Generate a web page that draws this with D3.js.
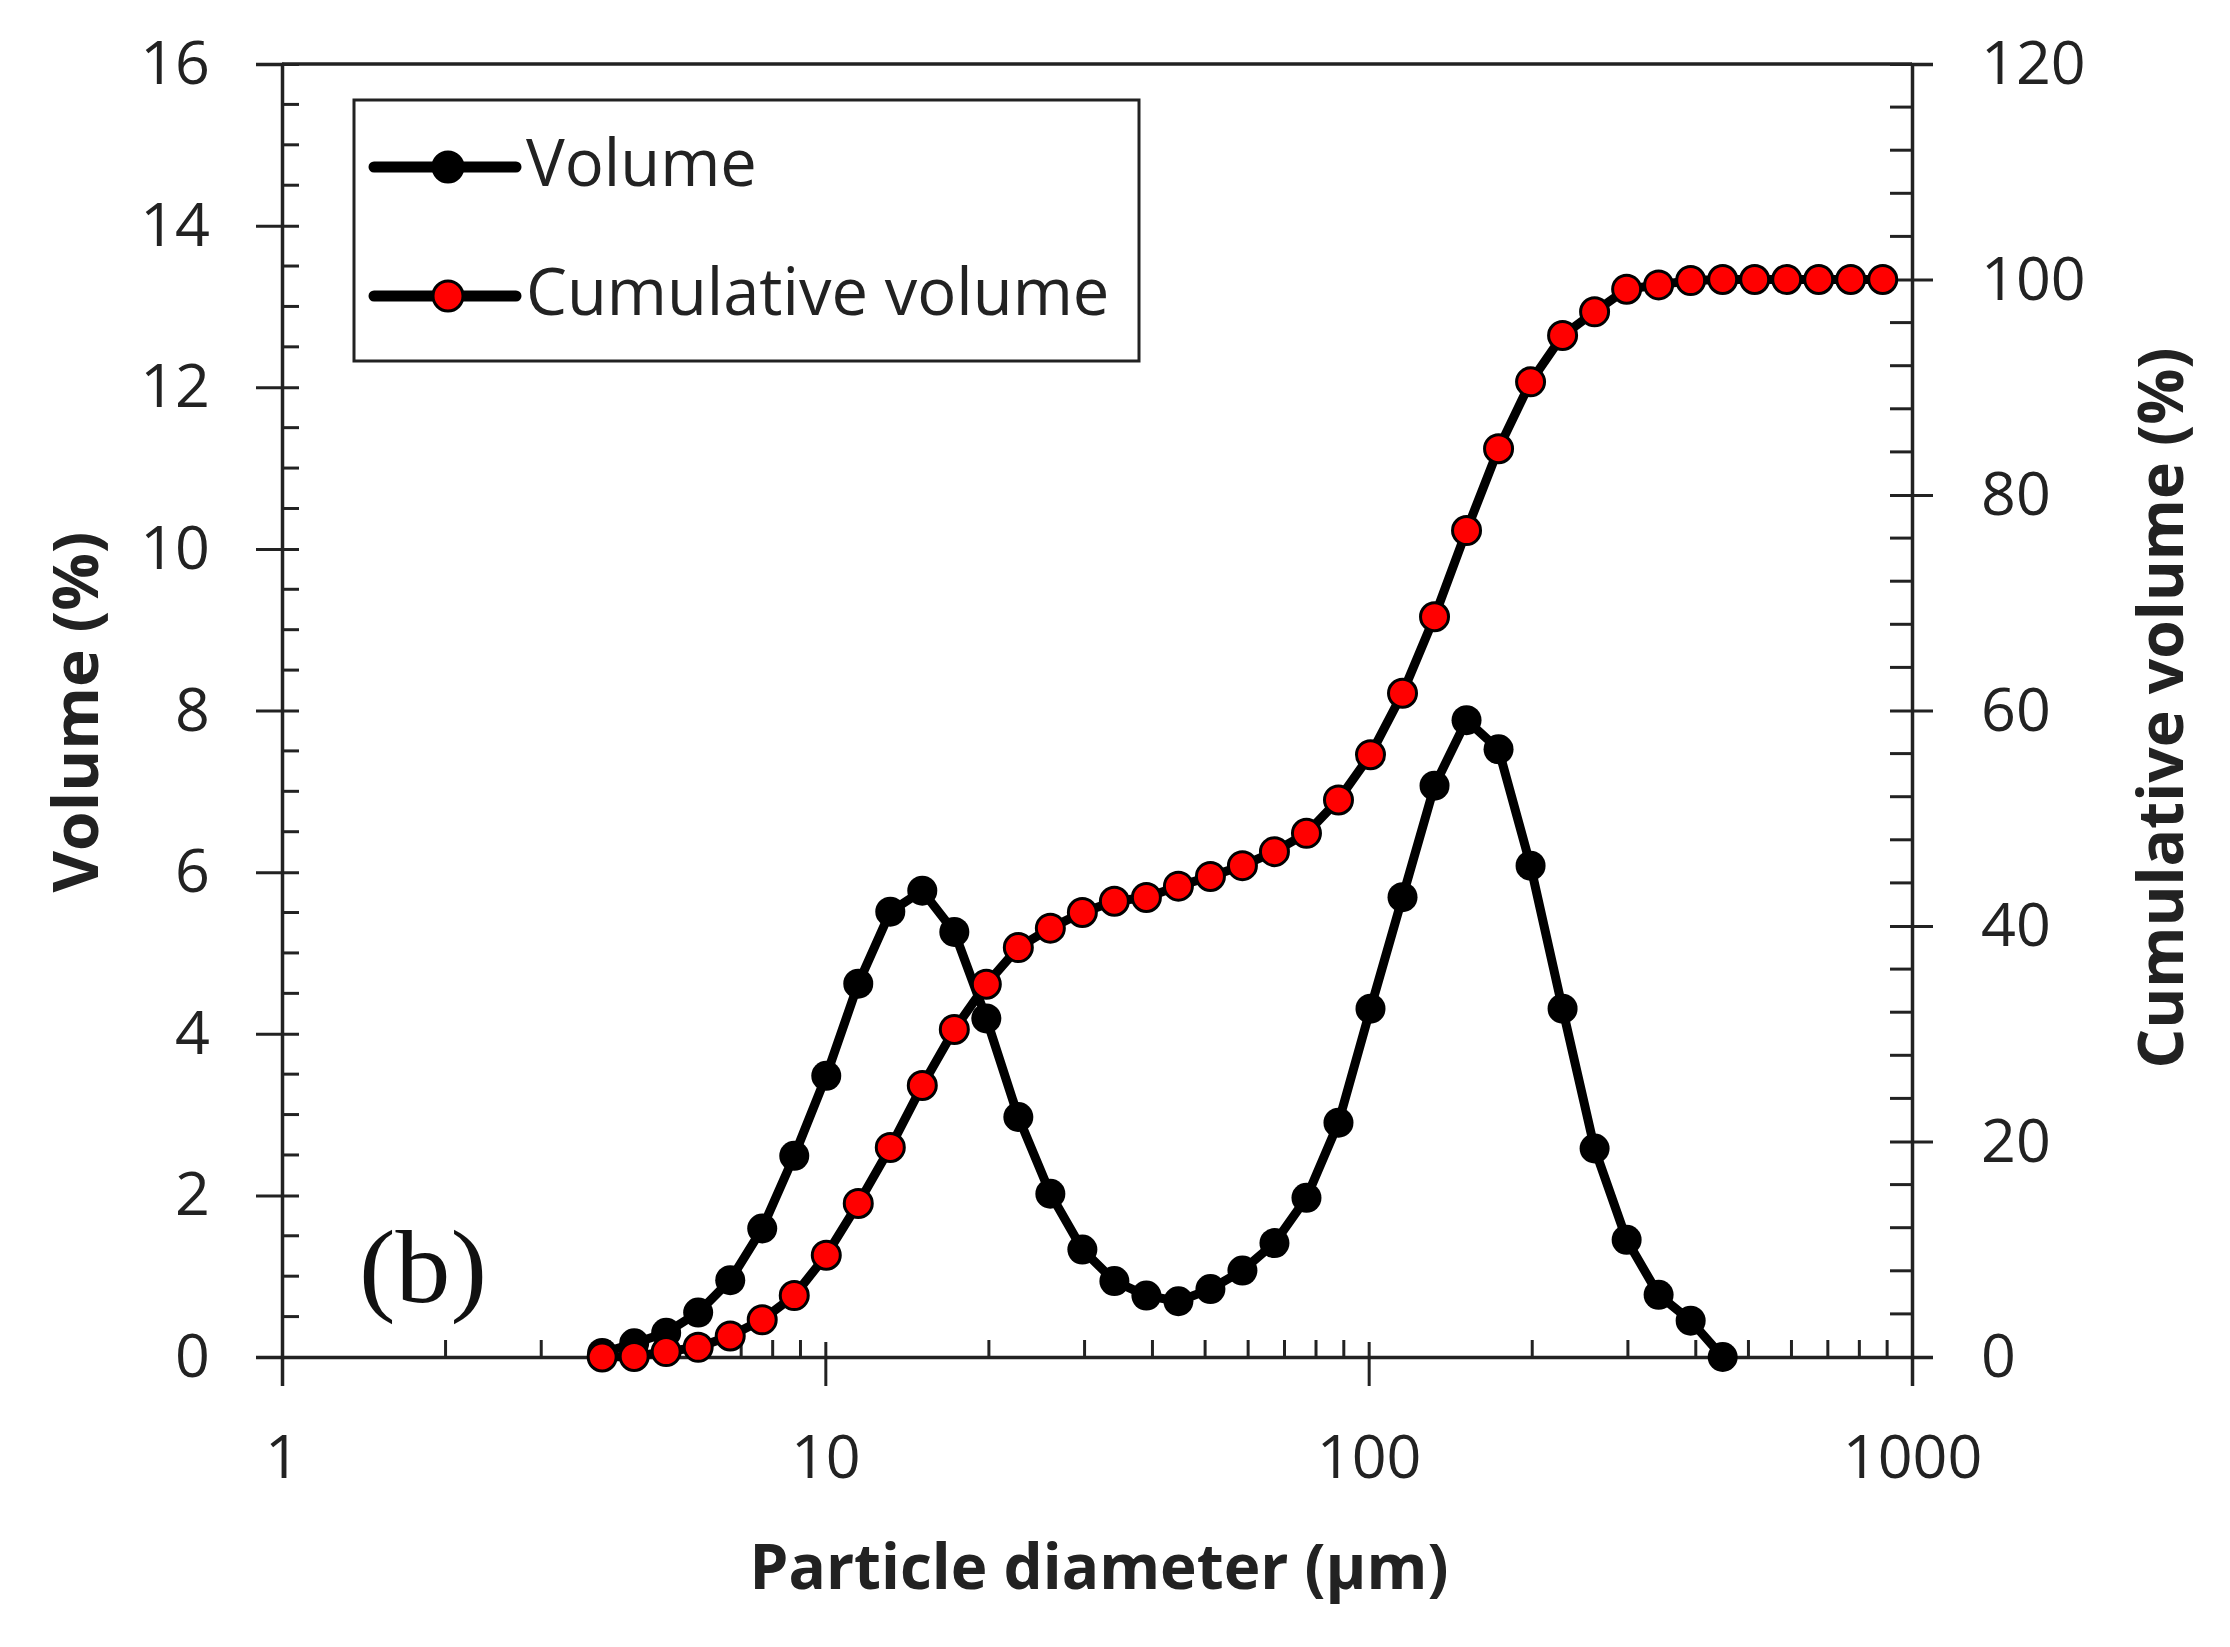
<!DOCTYPE html>
<html lang="en">
<head>
<meta charset="utf-8">
<title>Particle size distribution (b)</title>
<script src="https://cdn.jsdelivr.net/npm/d3@7"></script>
<style>
  body { margin: 0; background: #fff; }
  svg { display: block; }
</style>
</head>
<body>
<script>
// data
var diameters = [3.884, 4.448, 5.094, 5.834, 6.683, 7.653, 8.766, 10.04, 11.498, 13.169,
  15.082, 17.274, 19.783, 22.658, 25.95, 29.721, 34.04, 38.986, 44.651, 51.139,
  58.57, 67.081, 76.828, 87.992, 100.779, 115.423, 132.194, 151.401, 173.4, 198.596,
  227.46, 260.5, 298.4, 341.7, 391.4, 448.3, 513.4, 588.0, 673.5, 771.3, 883.4];
var volume = [0.05, 0.17, 0.3, 0.55, 0.95, 1.59, 2.49, 3.48, 4.62, 5.51,
  5.77, 5.26, 4.19, 2.97, 2.02, 1.33, 0.94, 0.76, 0.69, 0.84,
  1.07, 1.41, 1.97, 2.9, 4.31, 5.69, 7.07, 7.88, 7.52, 6.08,
  4.31, 2.58, 1.45, 0.77, 0.45, 0.0];
var cumulative = [0, 0.05, 0.5, 0.9, 1.95, 3.45, 5.7, 9.45, 14.25, 19.45,
  25.2, 30.4, 34.6, 38.0, 39.8, 41.25, 42.3, 42.65, 43.7, 44.6,
  45.6, 46.9, 48.6, 51.7, 55.9, 61.6, 68.7, 76.7, 84.3, 90.5,
  94.8, 97.0, 99.1, 99.5, 99.9, 100, 100, 100, 100, 100, 100];
var xTicks = [1, 10, 100, 1000];
var leftTicks = [0, 2, 4, 6, 8, 10, 12, 14, 16];
var rightTicks = [0, 20, 40, 60, 80, 100, 120];
var seriesNames = ["Volume", "Cumulative volume"];

//setup
var W = 2230, H = 1647;
var xLeft = 282, xRight = 1912, yTop = 64, yBottom = 1357;
var ink = "#222";
var font = "'Open Sans', 'DejaVu Sans', sans-serif";

var svg = d3.select("body").append("svg")
  .attr("width", W).attr("height", H);
svg.append("rect").attr("width", W).attr("height", H).attr("fill", "#fff");

var x = d3.scaleLog().domain([1, 1000]).range([xLeft, xRight]);
var yL = d3.scaleLinear().domain([0, 16]).range([yBottom, yTop]);
var yR = d3.scaleLinear().domain([0, 120]).range([yBottom, yTop]);

// minor ticks (drawn first, under the axes)
var minor = svg.append("g").attr("stroke", ink).attr("stroke-width", 3);
d3.range(0, 16.01, 0.5).filter(function(v) { return v % 2 != 0; }).forEach(function(v) {
  minor.append("line").attr("x1", xLeft).attr("x2", xLeft + 17)
    .attr("y1", yL(v)).attr("y2", yL(v));
});
d3.range(0, 120.01, 4).filter(function(v) { return v % 20 != 0; }).forEach(function(v) {
  minor.append("line").attr("x1", xRight - 22).attr("x2", xRight)
    .attr("y1", yR(v)).attr("y2", yR(v));
});
[1, 10, 100].forEach(function(dec) {
  for (var m = 2; m <= 9; m++) {
    minor.append("line").attr("x1", x(dec * m)).attr("x2", x(dec * m))
      .attr("y1", yBottom).attr("y2", yBottom - 17);
  }
});

// top frame line
svg.append("line").attr("x1", xLeft).attr("x2", xRight)
  .attr("y1", yTop).attr("y2", yTop)
  .attr("stroke", ink).attr("stroke-width", 3.5);

function styleAxis(g) {
  g.attr("font-family", font).attr("font-size", 61);
  g.select(".domain").attr("stroke", ink).attr("stroke-width", 3.5);
  g.selectAll(".tick line").attr("stroke", ink).attr("stroke-width", 3);
  g.selectAll(".tick text").attr("fill", ink);
}

// left axis
var gl = svg.append("g").attr("transform", "translate(" + xLeft + ",0)")
  .call(d3.axisLeft(yL).tickValues(leftTicks).tickSizeOuter(0).tickSize(26).tickPadding(46));
styleAxis(gl);
gl.selectAll(".tick line").attr("x1", 17).attr("x2", -26);

// right axis
var gr = svg.append("g").attr("transform", "translate(" + xRight + ",0)")
  .call(d3.axisRight(yR).tickValues(rightTicks).tickSizeOuter(0).tickSize(21).tickPadding(48));
styleAxis(gr);
gr.selectAll(".tick line").attr("x1", -22).attr("x2", 21);

// bottom axis
var gb = svg.append("g").attr("transform", "translate(0," + yBottom + ")")
  .call(d3.axisBottom(x).tickValues(xTicks).tickFormat(d3.format("d")).tickSizeOuter(0).tickSize(29));
styleAxis(gb);
gb.selectAll(".tick line").attr("y1", -15).attr("y2", 29);
gb.selectAll(".tick text").attr("y", 121).attr("dy", null);

// axis titles
svg.append("text")
  .attr("x", (xLeft + xRight) / 2 + 2).attr("y", 1589)
  .attr("text-anchor", "middle")
  .attr("font-family", font).attr("font-weight", "bold").attr("font-size", 63)
  .attr("textLength", 699).attr("lengthAdjust", "spacingAndGlyphs")
  .attr("fill", ink)
  .text("Particle diameter (\u00b5m)");

svg.append("text")
  .attr("transform", "translate(98,712) rotate(-90)")
  .attr("text-anchor", "middle")
  .attr("font-family", font).attr("font-weight", "bold").attr("font-size", 63)
  .attr("textLength", 361).attr("lengthAdjust", "spacingAndGlyphs")
  .attr("fill", ink)
  .text("Volume (%)");

svg.append("text")
  .attr("transform", "translate(2183,708) rotate(-90)")
  .attr("text-anchor", "middle")
  .attr("font-family", font).attr("font-weight", "bold").attr("font-size", 63)
  .attr("textLength", 721).attr("lengthAdjust", "spacingAndGlyphs")
  .attr("fill", ink)
  .text("Cumulative volume (%)");

// (b) label
svg.append("text")
  .attr("x", 359).attr("y", 1302)
  .attr("font-family", "'Liberation Serif', 'DejaVu Serif', serif").attr("font-size", 104)
  .attr("textLength", 128).attr("lengthAdjust", "spacingAndGlyphs")
  .attr("fill", "#111")
  .text("(b)");

// series
var lineL = d3.line().x(function(d) { return x(d[0]); }).y(function(d) { return yL(d[1]); });
var lineR = d3.line().x(function(d) { return x(d[0]); }).y(function(d) { return yR(d[1]); });
var volData = d3.zip(diameters, volume);
var cumData = d3.zip(diameters, cumulative);

svg.append("path").datum(volData).attr("d", lineL)
  .attr("fill", "none").attr("stroke", "#000").attr("stroke-width", 9)
  .attr("stroke-linejoin", "round");
svg.append("g").selectAll("circle").data(volData).enter().append("circle")
  .attr("cx", function(d) { return x(d[0]); })
  .attr("cy", function(d) { return yL(d[1]); })
  .attr("r", 15).attr("fill", "#000");

svg.append("path").datum(cumData).attr("d", lineR)
  .attr("fill", "none").attr("stroke", "#000").attr("stroke-width", 9)
  .attr("stroke-linejoin", "round");
svg.append("g").selectAll("circle").data(cumData).enter().append("circle")
  .attr("cx", function(d) { return x(d[0]); })
  .attr("cy", function(d) { return yR(d[1]); })
  .attr("r", 14).attr("fill", "#ff0000").attr("stroke", "#000").attr("stroke-width", 3);

// legend
var lg = svg.append("g");
lg.append("rect").attr("x", 354).attr("y", 100).attr("width", 785).attr("height", 261)
  .attr("fill", "#fff").attr("stroke", ink).attr("stroke-width", 3);
var legendFill = ["#000", "#ff0000"];
var legendY = [167, 296];
seriesNames.forEach(function(name, i) {
  lg.append("line").attr("x1", 374).attr("x2", 516)
    .attr("y1", legendY[i]).attr("y2", legendY[i])
    .attr("stroke", "#000").attr("stroke-width", 11)
    .attr("stroke-linecap", "round");
  lg.append("circle").attr("cx", 448).attr("cy", legendY[i]).attr("r", 15)
    .attr("fill", legendFill[i]).attr("stroke", "#000").attr("stroke-width", 3);
  lg.append("text").attr("x", 526).attr("y", legendY[i] + 19)
    .attr("font-family", font).attr("font-size", 65).attr("fill", ink)
    .text(name);
});
</script>
</body>
</html>
